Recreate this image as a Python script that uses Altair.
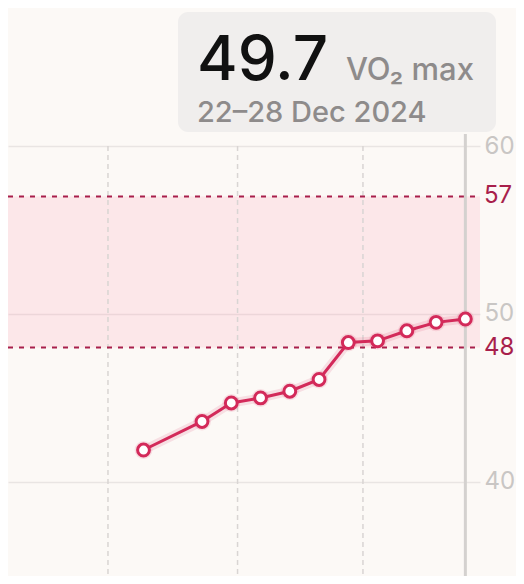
import altair as alt
import pandas as pd

# ---- data ----
week_mid = ["2024-10-09T12:00:00", "2024-10-23T12:00:00", "2024-10-30T12:00:00",
            "2024-11-06T12:00:00", "2024-11-13T12:00:00", "2024-11-20T12:00:00",
            "2024-11-27T12:00:00", "2024-12-04T12:00:00", "2024-12-11T12:00:00",
            "2024-12-18T12:00:00", "2024-12-25T12:00:00"]
vo2 = [41.9, 43.6, 44.7, 45.0, 45.4, 46.1, 48.3, 48.4, 49.0, 49.5, 49.7]
month_starts = ["2024-10-01T00:00:00", "2024-11-01T00:00:00", "2024-12-01T00:00:00"]
range_lo, range_hi = 48, 57
y_ticks = [40, 50, 60]
selected = ["2024-12-25T12:00:00"]
headline_value = "49.7"
headline_unit = "VO₂ max"
headline_dates = "22–28 Dec 2024"

W, H = 472, 430
FONT = "Inter"
CRIMSON = "#d32a5a"
DARK = "#a81f4b"

df = pd.DataFrame({"date": week_mid, "vo2": vo2})
band_df = pd.DataFrame({"lo": [range_lo], "hi": [range_hi]})
ref_df = pd.DataFrame({"v": [range_hi, range_lo], "lbl": [str(range_hi), str(range_lo)]})
month_df = pd.DataFrame({"date": month_starts})
sel_df = pd.DataFrame({"date": selected})
one = pd.DataFrame({"a": [0]})

xscale = alt.Scale(domain=[alt.DateTime(year=2024, month=9, date=7, hours=2),
                           alt.DateTime(year=2024, month=12, date=29, hours=0)])
yscale = alt.Scale(domain=[34.4, 60], nice=False, zero=False)
yaxis = alt.Axis(orient="right", values=y_ticks, grid=True, gridColor="#e9e5e3",
                 gridWidth=1.5, domain=False, ticks=False, labelPadding=4,
                 labelColor="#c9c6c4", labelFontSize=24, labelFont=FONT, title=None)


def X(f="date"):
    return alt.X(f, type="temporal", scale=xscale, axis=None)


def Y(f, **kw):
    return alt.Y(f, type="quantitative", scale=yscale, axis=yaxis, **kw)


band = alt.Chart(band_df).mark_rect(fill="#ff819f", opacity=0.15).encode(
    x=alt.value(0), x2=alt.value(W), y=Y("hi"), y2="lo")

months = alt.Chart(month_df).mark_rule(color="#d9d5d3", strokeWidth=1.5,
                                       strokeDash=[5, 4]).encode(
    x=X(), y=alt.value(0), y2=alt.value(H))

refs = alt.Chart(ref_df).mark_rule(color=DARK, strokeWidth=2, strokeDash=[5, 6]).encode(
    y=Y("v"), x=alt.value(0), x2=alt.value(W))

ref_lbl = alt.Chart(ref_df).mark_text(align="left", baseline="middle", font=FONT,
                                      fontSize=24, color=DARK).encode(
    y=Y("v"), x=alt.value(W + 4), text="lbl:N")

cursor = alt.Chart(sel_df).mark_rule(color="#d4d1cf", strokeWidth=3).encode(
    x=X(), y=alt.value(-12), y2=alt.value(H))

glow = alt.Chart(df).mark_line(color=CRIMSON, strokeWidth=9, opacity=0.12).encode(
    x=X(), y=Y("vo2"))
line = alt.Chart(df).mark_line(color=CRIMSON, strokeWidth=3).encode(
    x=X(), y=Y("vo2"))
pt_glow = alt.Chart(df).mark_point(shape="circle", filled=True, fill=CRIMSON,
                                   size=320, opacity=0.12).encode(x=X(), y=Y("vo2"))
pts = alt.Chart(df).mark_point(shape="circle", filled=True, fill="white", stroke=CRIMSON,
                               strokeWidth=3, size=140, opacity=1).encode(
    x=X(), y=Y("vo2"))

box = alt.Chart(one).mark_rect(fill="#f0eeed", cornerRadius=10).encode(
    x=alt.value(170), x2=alt.value(488), y=alt.value(-134), y2=alt.value(-14))
t_val = alt.Chart(pd.DataFrame({"t": [headline_value]})).mark_text(
    align="left", baseline="alphabetic", font=FONT, fontSize=62, fontWeight=500,
    color="#111111").encode(x=alt.value(189), y=alt.value(-66), text="t:N")
t_unit = alt.Chart(pd.DataFrame({"t": [headline_unit]})).mark_text(
    align="left", baseline="alphabetic", font=FONT, fontSize=31, fontWeight=500,
    color="#8e8b8b").encode(x=alt.value(338), y=alt.value(-66), text="t:N")
t_date = alt.Chart(pd.DataFrame({"t": [headline_dates]})).mark_text(
    align="left", baseline="alphabetic", font=FONT, fontSize=29, fontWeight=500,
    color="#8e8b8b").encode(x=alt.value(189), y=alt.value(-24), text="t:N")

chart = alt.layer(band, months, refs, ref_lbl, cursor, glow, line, pt_glow, pts,
                  box, t_val, t_unit, t_date).properties(
    width=W, height=H, autosize="none",
    padding={"left": 0, "top": 138, "right": 36, "bottom": 0},
    background="#fcf9f6",
).configure_view(stroke=None)

chart.save("out.html", embed_options={"renderer": "svg", "actions": False})
